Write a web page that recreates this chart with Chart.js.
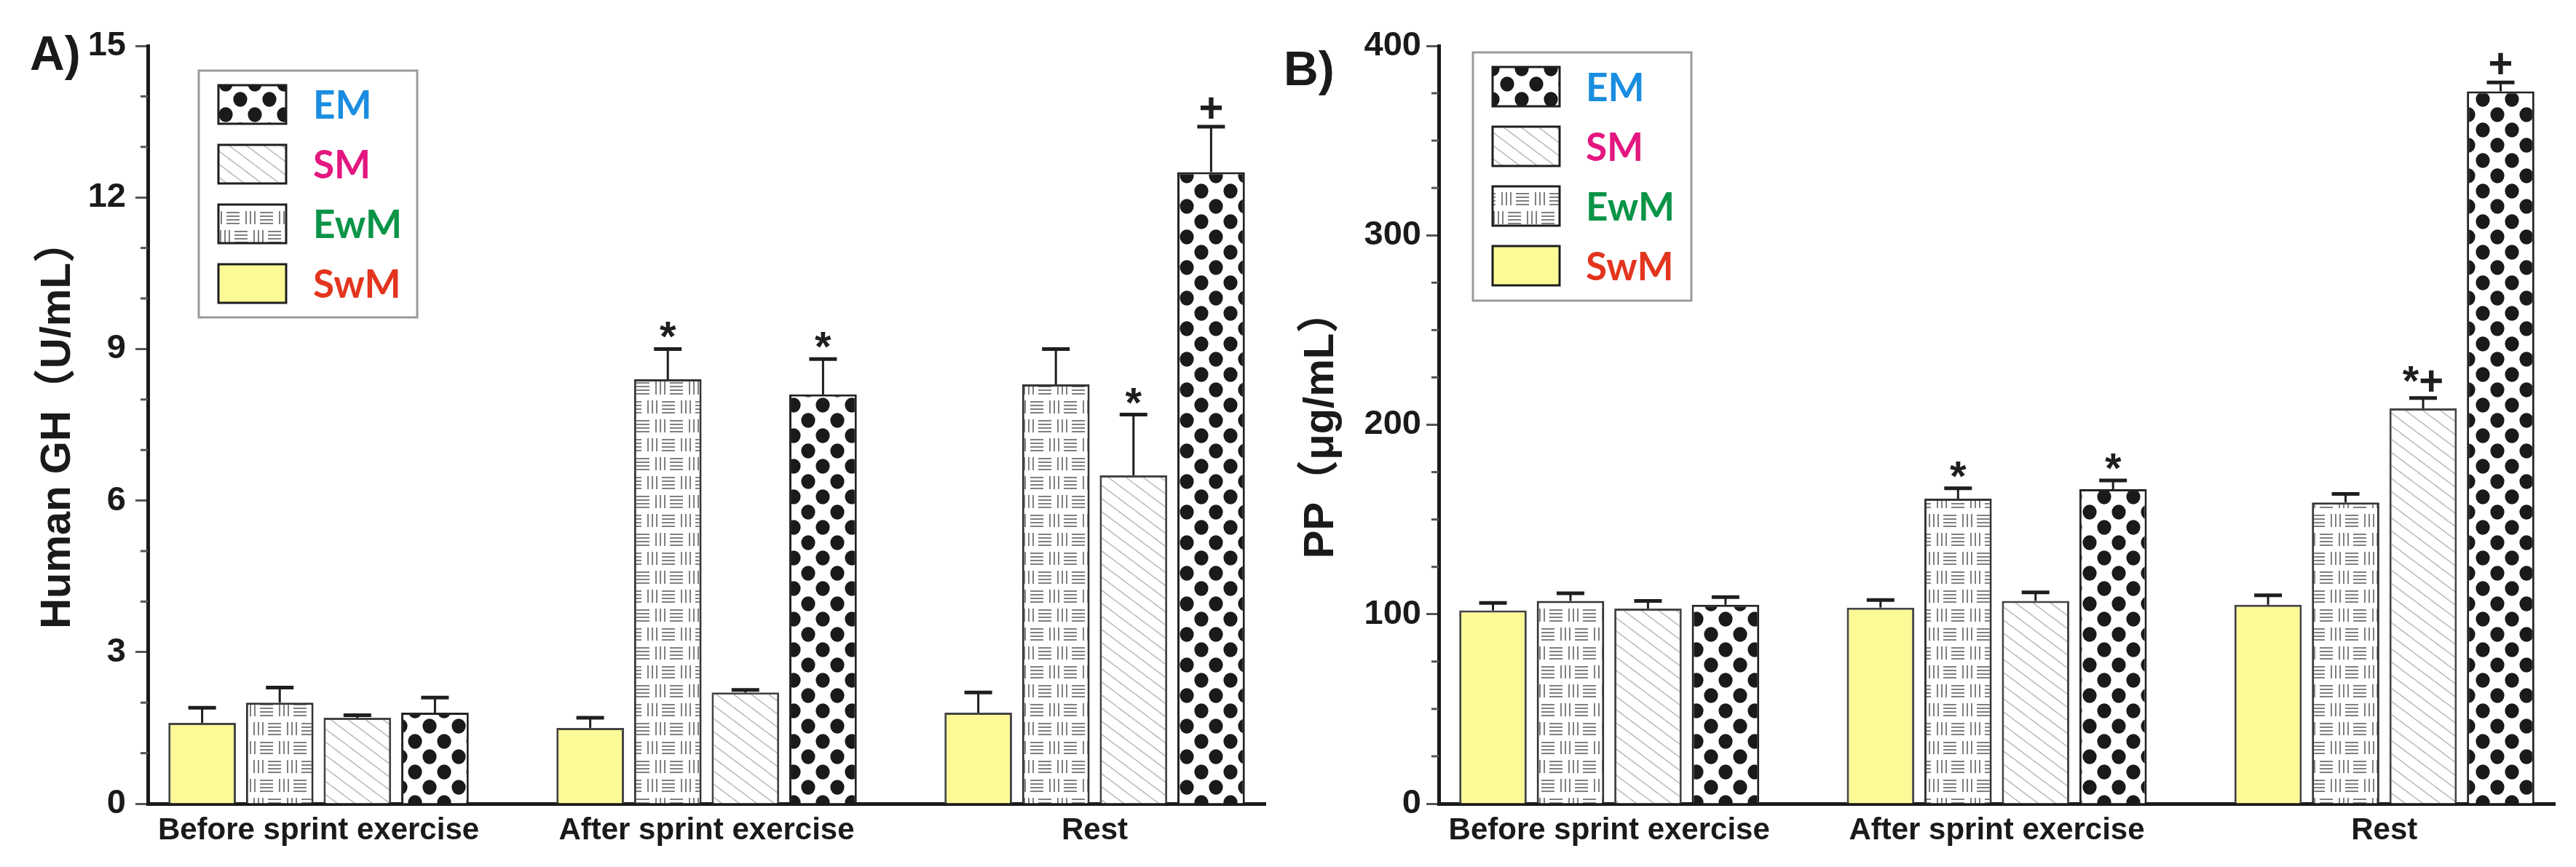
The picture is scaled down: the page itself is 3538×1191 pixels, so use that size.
<!DOCTYPE html>
<html><head><meta charset="utf-8">
<script src="https://cdn.jsdelivr.net/npm/chart.js@4.4.1/dist/chart.umd.min.js"></script>
<style>
html,body{margin:0;padding:0;background:#fff;}
#wrap{position:relative;width:3538px;height:1191px;overflow:hidden;background:#fff;}
canvas{position:absolute;top:0;}
</style></head><body>
<div id="wrap">
<canvas id="cA" width="1760" height="1191" style="left:0;width:1760px;height:1191px"></canvas>
<canvas id="cB" width="1778" height="1191" style="left:1760px;width:1778px;height:1191px"></canvas>
</div>
<script>
// ---------------- DATA ----------------
const categories = ['Before sprint exercise', 'After sprint exercise', 'Rest'];
const seriesNames = ['SwM', 'EwM', 'SM', 'EM'];
const legendOrder = ['EM', 'SM', 'EwM', 'SwM'];

// Panel A: Human GH (U/mL)
const ghSwM = [1.6, 1.5, 1.8];
const ghEwM = [2.0, 8.4, 8.3];
const ghSM  = [1.7, 2.2, 6.5];
const ghEM  = [1.8, 8.1, 12.5];
const ghSwMErr = [0.3, 0.2, 0.4];
const ghEwMErr = [0.3, 0.6, 0.7];
const ghSMErr  = [0.05, 0.05, 1.2];
const ghEMErr  = [0.3, 0.7, 0.9];
const ghSwMMark = ['', '', ''];
const ghEwMMark = ['', '*', ''];
const ghSMMark  = ['', '', '*'];
const ghEMMark  = ['', '*', '+'];

// Panel B: PP (μg/mL)
const ppSwM = [102, 103.5, 105];
const ppEwM = [107, 161, 159];
const ppSM  = [103, 107, 208.6];
const ppEM  = [105, 166, 376];
const ppSwMErr = [4, 4, 5];
const ppEwMErr = [4, 5.5, 4.5];
const ppSMErr  = [4, 4.5, 5.5];
const ppEMErr  = [4, 4.6, 4.7];
const ppSwMMark = ['', '', ''];
const ppEwMMark = ['', '*', ''];
const ppSMMark  = ['', '', '*+'];
const ppEMMark  = ['', '*', '+'];

// ---------------- STYLE ----------------
const FONT = "'Liberation Sans', Arial, 'Noto Sans CJK SC', sans-serif";
const legendColors = { EM: '#1a8de0', SM: '#e3177f', EwM: '#0a9447', SwM: '#e3341e' };
const borderColors = { SwM: '#444444', EwM: '#333333', SM: '#444444', EM: '#222222' };

function makePattern(w, h, draw) {
  const c = document.createElement('canvas');
  c.width = w; c.height = h;
  const g = c.getContext('2d');
  g.fillStyle = '#ffffff'; g.fillRect(0, 0, w, h);
  draw(g, w, h);
  return document.getElementById('cA').getContext('2d').createPattern(c, 'repeat');
}
const fills = {
  SwM: '#fbfa96',
  EM: makePattern(40, 42, g => {
    g.fillStyle = '#1c1a18';
    [[10, 10.5], [30, 31.5]].forEach(([x, y]) => { g.beginPath(); g.ellipse(x, y, 9.6, 10.2, 0, 0, Math.PI * 2); g.fill(); });
  }),
  SM: makePattern(24, 18, g => {
    g.strokeStyle = '#b4b4b4'; g.lineWidth = 1.4;
    [-24, 0, 24].forEach(o => { g.beginPath(); g.moveTo(o - 2, -1.5); g.lineTo(o + 26, 19.5); g.stroke(); });
  }),
  EwM: makePattern(46, 52, g => {
    g.fillStyle = '#808080';
    const H = (x, y) => { for (let k = 0; k < 4; k++) g.fillRect(x, y + 1 + k * 5, 18, 2); };
    const V = (x, y) => { for (let k = 0; k < 3; k++) g.fillRect(x + 1 + k * 6, y, 2, 18); };
    [-46, 0, 46].forEach(o => { H(o, 4); V(25 + o, 4); H(35 + o, 30); V(14 + o, 30); });
  })
};

// ---------------- PLUGIN ----------------
const decorPlugin = {
  id: 'decor',
  afterDatasetsDraw(chart, args, opts) {
    const ctx = chart.ctx, y = chart.scales.y, ca = chart.chartArea;
    ctx.save();
    // minor ticks
    ctx.strokeStyle = '#555'; ctx.lineWidth = 3;
    for (let v = y.min + opts.minorStep; v < y.max; v += opts.minorStep) {
      const r = v / opts.majorStep;
      if (Math.abs(r - Math.round(r)) < 1e-6) continue;
      const py = y.getPixelForValue(v);
      ctx.beginPath(); ctx.moveTo(ca.left - 10, py); ctx.lineTo(ca.left, py); ctx.stroke();
    }
    // error bars + significance marks
    chart.data.datasets.forEach((ds, di) => {
      const meta = chart.getDatasetMeta(di);
      meta.data.forEach((bar, i) => {
        const v = ds.data[i].y, e = ds.errors[i];
        const yTop = y.getPixelForValue(v), yCap = y.getPixelForValue(v + e);
        ctx.strokeStyle = '#1e1e1e';
        ctx.lineWidth = 3;
        ctx.beginPath(); ctx.moveTo(bar.x, yTop); ctx.lineTo(bar.x, yCap); ctx.stroke();
        ctx.lineWidth = 5;
        ctx.beginPath(); ctx.moveTo(bar.x - 19, yCap); ctx.lineTo(bar.x + 19, yCap); ctx.stroke();
        const m = ds.marks[i];
        if (m) {
          ctx.fillStyle = '#1e1e1e';
          ctx.font = "bold 58px " + FONT;
          ctx.textAlign = 'center'; ctx.textBaseline = 'alphabetic';
          const tm = ctx.measureText(m);
          const cy = yCap - 26;
          ctx.fillText(m, bar.x, cy + (tm.actualBoundingBoxAscent - tm.actualBoundingBoxDescent) / 2);
        }
      });
    });
    ctx.restore();
  },
  afterDraw(chart, args, opts) {
    const ctx = chart.ctx, L = opts.legend;
    ctx.save();
    // legend box
    ctx.fillStyle = '#fff';
    ctx.fillRect(L.left, L.top, L.width, L.height);
    ctx.strokeStyle = '#9a9a9a'; ctx.lineWidth = 3;
    ctx.strokeRect(L.left, L.top, L.width, L.height);
    legendOrder.forEach((name, k) => {
      const ds = chart.data.datasets.find(d => d.label === name);
      const top = L.rowTop + k * L.rowGap;
      ctx.fillStyle = ds.backgroundColor;
      ctx.fillRect(L.swX, top, L.swW, L.swH);
      ctx.strokeStyle = '#1e1e1e'; ctx.lineWidth = 3;
      ctx.strokeRect(L.swX, top, L.swW, L.swH);
      ctx.fillStyle = legendColors[name];
      ctx.font = "bold 53px Lato, 'Open Sans', sans-serif";
      ctx.textAlign = 'left'; ctx.textBaseline = 'alphabetic';
      const tm = ctx.measureText('EM');
      ctx.fillText(name, L.textX, top + L.swH / 2 + tm.actualBoundingBoxAscent / 2);
    });
    // panel label
    ctx.fillStyle = '#1a1a1a';
    ctx.font = "bold 66px " + FONT;
    ctx.textAlign = 'left'; ctx.textBaseline = 'alphabetic';
    ctx.fillText(opts.panel.text, opts.panel.x, opts.panel.y);
    ctx.restore();
  }
};

function makeChart(canvasId, cfg) {
  const datasets = seriesNames.map((name, si) => ({
    label: name,
    data: cfg.values[si].map((v, i) => ({ x: i, y: v })),
    errors: cfg.errors[si],
    marks: cfg.marks[si],
    backgroundColor: fills[name],
    borderColor: borderColors[name],
    borderWidth: 3,
    borderSkipped: 'start',
    categoryPercentage: 0.8,
    barPercentage: 0.87
  }));
  return new Chart(document.getElementById(canvasId), {
    type: 'bar',
    data: { datasets },
    options: {
      responsive: false, animation: false, devicePixelRatio: 1,
      events: [],
      layout: { padding: cfg.padding },
      plugins: { legend: { display: false }, tooltip: { enabled: false }, decor: cfg.decor },
      scales: {
        x: {
          type: 'linear', min: -0.44, max: 2.44, offset: false, z: 1,
          grid: { display: false, drawTicks: false },
          border: { display: true, width: 5, color: '#1a1a1a' },
          afterBuildTicks: s => { s.ticks = categories.map((c, i) => ({ value: i })); },
          afterFit: s => { s.height = cfg.xHeight; },
          ticks: {
            callback: v => categories[v], autoSkip: false, maxRotation: 0,
            font: { family: FONT, size: 42, weight: 'bold' }, color: '#1a1a1a', padding: 12
          }
        },
        y: {
          min: 0, max: cfg.yMax, z: 1,
          ticks: { stepSize: cfg.yStep, font: { family: FONT, size: 47, weight: 'bold' }, color: '#1a1a1a', padding: cfg.tickPad },
          grid: { drawOnChartArea: false, drawTicks: true, tickLength: 17, tickWidth: 3, tickColor: '#555' },
          border: { display: true, width: 5, color: '#1a1a1a' },
          title: {
            display: true, text: cfg.yTitle, color: '#1a1a1a',
            font: { family: FONT, size: 58, weight: 'bold', lineHeight: 1.2 },
            padding: { top: cfg.titlePad, bottom: 0 }
          },
          afterFit: s => { s.width = cfg.yWidth; }
        }
      }
    },
    plugins: [decorPlugin]
  });
}

makeChart('cA', {
  values: [ghSwM, ghEwM, ghSM, ghEM],
  errors: [ghSwMErr, ghEwMErr, ghSMErr, ghEMErr],
  marks: [ghSwMMark, ghEwMMark, ghSMMark, ghEMMark],
  yMax: 15, yStep: 3, tickPad: 13, yTitle: 'Human GH（U/mL）', titlePad: 45,
  padding: { left: 0, top: 63, right: 22, bottom: 0 }, yWidth: 203, xHeight: 87,
  decor: {
    minorStep: 1, majorStep: 3,
    legend: { left: 273, top: 97, width: 300, height: 339, swX: 300, swW: 93, swH: 53, rowTop: 117, rowGap: 82, textX: 430 },
    panel: { text: 'A)', x: 41, y: 96 }
  }
});

makeChart('cB', {
  values: [ppSwM, ppEwM, ppSM, ppEM],
  errors: [ppSwMErr, ppEwMErr, ppSMErr, ppEMErr],
  marks: [ppSwMMark, ppEwMMark, ppSMMark, ppEMMark],
  yMax: 400, yStep: 100, tickPad: 7, yTitle: 'PP（μg/mL）', titlePad: 20,
  padding: { left: 0, top: 63, right: 29, bottom: 0 }, yWidth: 216, xHeight: 87,
  decor: {
    minorStep: 25, majorStep: 100,
    legend: { left: 263, top: 72, width: 300, height: 341, swX: 290, swW: 92, swH: 54, rowTop: 92, rowGap: 82, textX: 418 },
    panel: { text: 'B)', x: 3, y: 117 }
  }
});
</script>
</body></html>
